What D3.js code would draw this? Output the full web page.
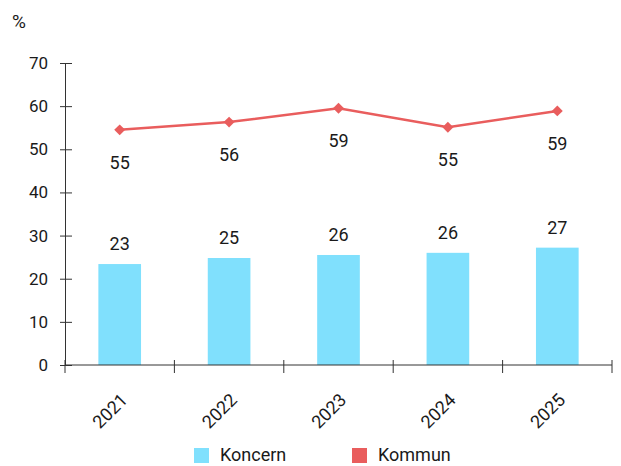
<!DOCTYPE html>
<html>
<head>
<meta charset="utf-8">
<script src="https://cdn.jsdelivr.net/npm/d3@7"></script>
<style>
  body { margin: 0; background: #fff; }
  svg text { font-family: Roboto, "Noto Sans", sans-serif; fill: #1a1a1a; }
</style>
</head>
<body>
<div id="chart"></div>
<script>
const years = ['2021', '2022', '2023', '2024', '2025'];
const koncern = [23.4, 24.8, 25.5, 26.0, 27.2];
const kommun = [54.5, 56.3, 59.5, 55.1, 58.9];
const koncernLabels = ['23', '25', '26', '26', '27'];
const kommunLabels = ['55', '56', '59', '55', '59'];
const yTicks = [0, 10, 20, 30, 40, 50, 60, 70];

const width = 621, height = 466;
const margin = { left: 65, right: 9, top: 63, bottom: 101 };
const barColor = '#80e0fd';
const lineColor = '#e95d5d';

const svg = d3.select('#chart').append('svg')
    .attr('width', width)
    .attr('height', height);

const xScale = d3.scaleBand()
    .domain(years)
    .range([margin.left, width - margin.right]);

const yScale = d3.scaleLinear()
    .domain([0, 70])
    .range([height - margin.bottom, margin.top]);

const cx = d => xScale(d) + xScale.bandwidth() / 2;
const barW = xScale.bandwidth() * 0.39;

// bars
svg.selectAll('.bar')
    .data(years)
    .enter()
    .append('rect')
    .attr('class', 'bar')
    .attr('x', d => cx(d) - barW / 2)
    .attr('width', barW)
    .attr('y', (d, i) => yScale(koncern[i]))
    .attr('height', (d, i) => yScale(0) - yScale(koncern[i]))
    .attr('fill', barColor);

svg.selectAll('.bar-label')
    .data(years)
    .enter()
    .append('text')
    .attr('x', d => cx(d))
    .attr('y', (d, i) => yScale(koncern[i]) - 14)
    .attr('text-anchor', 'middle')
    .attr('font-size', '18px')
    .text((d, i) => koncernLabels[i]);

// y axis
const yAxis = d3.axisLeft(yScale)
    .tickValues(yTicks)
    .tickSizeInner(5)
    .tickSizeOuter(0)
    .tickPadding(12);

const gy = svg.append('g')
    .attr('transform', `translate(${margin.left},0)`)
    .call(yAxis);
gy.selectAll('.tick line').attr('x2', 7).attr('x1', -5);
gy.selectAll('text').attr('font-size', '17px').attr('fill', '#1a1a1a');
gy.selectAll('path, line').attr('stroke', '#333');

// x axis
const xTickPos = years.map(d => xScale(d)).concat([width - margin.right]);
const gx = svg.append('g')
    .attr('transform', `translate(0,${yScale(0)})`);
gx.append('line')
    .attr('x1', margin.left).attr('x2', width - margin.right)
    .attr('stroke', '#333');
gx.selectAll('.xtick')
    .data(xTickPos)
    .enter()
    .append('line')
    .attr('x1', d => d).attr('x2', d => d)
    .attr('y1', -5).attr('y2', 8)
    .attr('stroke', '#333');
gx.selectAll('.xlabel')
    .data(years)
    .enter()
    .append('text')
    .attr('text-anchor', 'end')
    .attr('font-size', '18px')
    .attr('transform', d => `translate(${cx(d) + 9},${36}) rotate(-45)`)
    .text(d => d);

// line
const line = d3.line()
    .x((d, i) => cx(years[i]))
    .y(d => yScale(d));

svg.append('path')
    .datum(kommun)
    .attr('d', line)
    .attr('fill', 'none')
    .attr('stroke', lineColor)
    .attr('stroke-width', 2.5);

svg.selectAll('.dot')
    .data(kommun)
    .enter()
    .append('path')
    .attr('d', d3.symbol(d3.symbolSquare, 60))
    .attr('transform', (d, i) => `translate(${cx(years[i])},${yScale(d)}) rotate(45)`)
    .attr('fill', lineColor);

svg.selectAll('.line-label')
    .data(kommun)
    .enter()
    .append('text')
    .attr('x', (d, i) => cx(years[i]))
    .attr('y', d => yScale(d) + 39)
    .attr('text-anchor', 'middle')
    .attr('font-size', '18px')
    .text((d, i) => kommunLabels[i]);

// unit
svg.append('text')
    .attr('x', 12)
    .attr('y', 28)
    .attr('font-size', '19px')
    .text('%');

// legend
const legendItems = [
    { label: 'Koncern', color: barColor, x: 194 },
    { label: 'Kommun', color: lineColor, x: 352 }
];
const lg = svg.selectAll('.legend')
    .data(legendItems)
    .enter()
    .append('g')
    .attr('transform', d => `translate(${d.x},448)`);
lg.append('rect')
    .attr('width', 15).attr('height', 15)
    .attr('fill', d => d.color);
lg.append('text')
    .attr('x', 26)
    .attr('y', 13)
    .attr('font-size', '18px')
    .text(d => d.label);
</script>
</body>
</html>
